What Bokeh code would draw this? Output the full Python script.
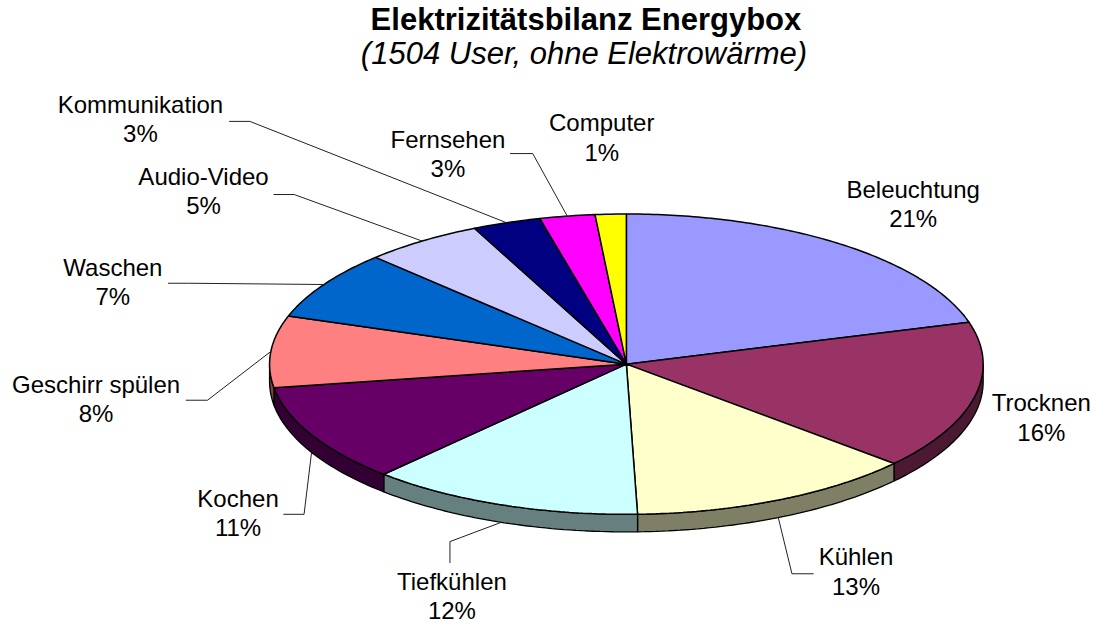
import math
import numpy as np
from bokeh.plotting import figure
from bokeh.models import Range1d
from bokeh.core.properties import value
from bokeh.embed import file_html
from bokeh.resources import INLINE

# ---------------- data ----------------
categories = ["Beleuchtung", "Trocknen", "Kühlen", "Tiefkühlen", "Kochen",
              "Geschirr spülen", "Waschen", "Audio-Video", "Kommunikation",
              "Fernsehen", "Computer"]
shares = [20.5, 16.0, 13.0, 12.4, 10.6, 7.7, 7.4, 5.4, 3.1, 2.5, 1.4]
top_colors = ["#9999FF", "#993366", "#FFFFCC", "#CCFFFF", "#660066", "#FF8080",
              "#0066CC", "#CCCCFF", "#000080", "#FF00FF", "#FFFF00"]
title_text = "Elektrizitätsbilanz Energybox"
subtitle_text = "(1504 User, ohne Elektrowärme)"

# ---------------- layout (pixel space of the reference image) ----------------
W, H = 1096, 623
REF_W, REF_H = 1112, 639
YS = H / REF_H
CX, CY, RX, RY, DEPTH = 635, 373, 362, 154, 18
FONT = "Liberation Sans"
LABEL_FS, TITLE_FS = 24, 31
LINE_GAP = 30
label_xy = {
    "Beleuchtung": (926, 203), "Trocknen": (1056, 422), "Kühlen": (868, 580),
    "Tiefkühlen": (458, 605), "Kochen": (241, 520), "Geschirr spülen": (97, 403),
    "Waschen": (114, 283), "Audio-Video": (206, 190), "Kommunikation": (142, 116),
    "Fernsehen": (454, 152), "Computer": (610, 135),
}
leader_start = {
    "Kommunikation": [(232, 124), (253, 124)],
    "Audio-Video": [(277, 199), (298, 199)],
    "Fernsehen": [(517, 157), (540, 157)],
    "Waschen": [(170, 290), (190, 290)],
    "Geschirr spülen": [(188, 410), (210, 410)],
    "Kochen": [(287, 527), (308, 527)],
    "Tiefkühlen": [(456, 577), (456, 555)],
    "Kühlen": [(825, 588), (803, 588)],
}


def base_fix(fs):
    # compensate the downward offset observed for alphabetic text in the svg output
    return 0.38 * fs / YS


def darker(hexcol, f=0.5):
    r, g, b = (int(hexcol[i:i + 2], 16) for i in (1, 3, 5))
    return "#%02X%02X%02X" % (int(r * f), int(g * f), int(b * f))


def pt(t, dy=0.0):
    return CX + RX * math.sin(t), CY - RY * math.cos(t) + dy


total = float(sum(shares))
fr = np.array(shares) / total
ends = np.cumsum(fr) * 2 * math.pi
starts = ends - fr * 2 * math.pi

p = figure(width=W, height=H, x_range=Range1d(0, REF_W), y_range=Range1d(REF_H, 0),
           toolbar_location=None, output_backend="svg", min_border=0,
           x_axis_type=None, y_axis_type=None)
p.grid.visible = False
p.outline_line_color = None
p.background_fill_color = "white"
p.border_fill_color = "white"

# side walls (front half only)
sx, sy, sc = [], [], []
for a1, a2, col in zip(starts, ends, top_colors):
    lo, hi = max(a1, math.pi / 2), min(a2, 3 * math.pi / 2)
    if lo < hi:
        ts = np.linspace(lo, hi, max(8, int((hi - lo) * 60)))
        top = [pt(t) for t in ts]
        bot = [pt(t, DEPTH) for t in ts[::-1]]
        poly = top + bot
        sx.append([q[0] for q in poly])
        sy.append([q[1] for q in poly])
        sc.append(darker(col))
p.patches(sx, sy, fill_color=sc, line_color="black", line_width=1.3)

# top faces
tx, ty = [], []
for a1, a2 in zip(starts, ends):
    ts = np.linspace(a1, a2, max(6, int((a2 - a1) * 80)))
    poly = [(CX, CY)] + [pt(t) for t in ts]
    tx.append([q[0] for q in poly])
    ty.append([q[1] for q in poly])
p.patches(tx, ty, fill_color=top_colors, line_color="black", line_width=1.5)

# leader lines to the middle of each slice's outer edge
lx, ly = [], []
for name, a1, a2 in zip(categories, starts, ends):
    if name in leader_start:
        m = (a1 + a2) / 2
        end = pt(m, DEPTH if math.cos(m) < 0 else 0)
        pts = leader_start[name] + [end]
        lx.append([q[0] for q in pts])
        ly.append([q[1] for q in pts])
p.multi_line(lx, ly, line_color="#222222", line_width=1)

# labels
fix = base_fix(LABEL_FS)
names_x, names_y, pct_y, pct_t = [], [], [], []
for name, f in zip(categories, fr):
    x, y = label_xy[name]
    names_x.append(x)
    names_y.append(y - fix)
    pct_y.append(y + LINE_GAP - fix)
    pct_t.append("%d%%" % int(math.floor(f * 100 + 0.5)))
common = dict(text_align="center", text_baseline="alphabetic",
              text_font=value(FONT), text_font_size="%dpx" % LABEL_FS, text_color="black")
p.text(names_x, names_y, text=categories, **common)
p.text(names_x, pct_y, text=pct_t, **common)

# title
tfix = base_fix(TITLE_FS)
p.text([594], [32 - tfix], text=[title_text], text_align="center", text_baseline="alphabetic",
       text_font=value(FONT), text_font_size="%dpx" % TITLE_FS, text_font_style="bold",
       text_color="black")
p.text([592], [66 - tfix], text=[subtitle_text], text_align="center", text_baseline="alphabetic",
       text_font=value(FONT), text_font_size="%dpx" % TITLE_FS, text_font_style="italic",
       text_color="black")

open("out.html", "w").write(file_html(p, INLINE))
